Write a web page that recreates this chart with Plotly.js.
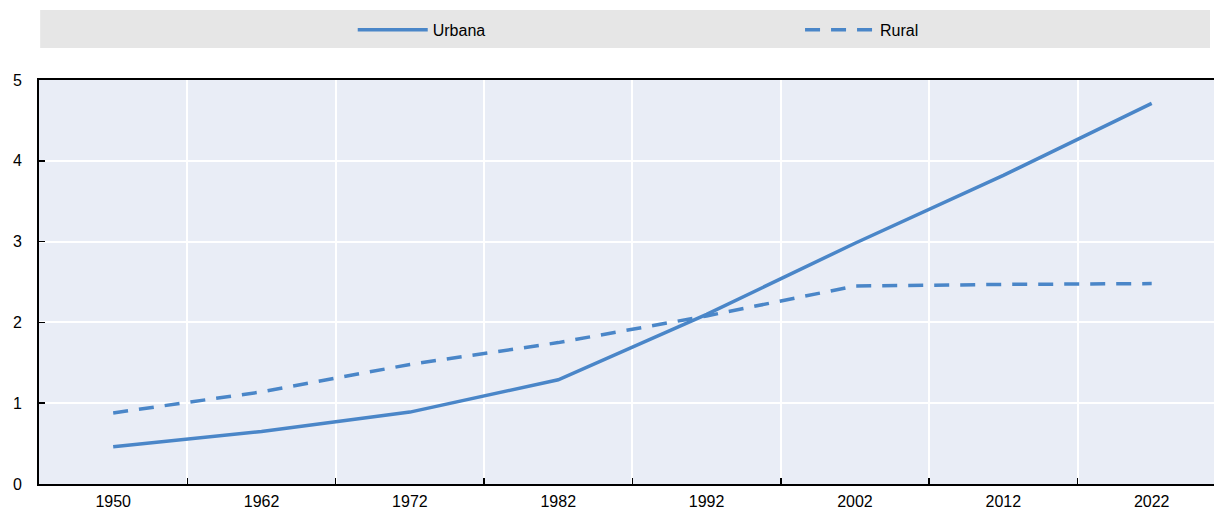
<!DOCTYPE html>
<html>
<head>
<meta charset="utf-8">
<script src="https://cdn.plot.ly/plotly-3.0.1.min.js"></script>
<style>html,body{margin:0;padding:0;background:#fff;}#chart{width:1216px;height:509px;}</style>
</head>
<body>
<div id="chart"></div>
<script>
const years = ["1950", "1962", "1972", "1982", "1992", "2002", "2012", "2022"];
const urbana = [0.46, 0.65, 0.89, 1.29, 2.10, 2.98, 3.82, 4.71];
const rural = [0.88, 1.14, 1.48, 1.75, 2.08, 2.45, 2.47, 2.48];
const seriesNames = ["Urbana", "Rural"];

const FONT = "'Liberation Sans', Arial, sans-serif";
const BLUE = "#4a86c8";

const traces = [
  {x: years, y: urbana, name: seriesNames[0], type: "scatter", mode: "lines", legend: "legend",
   line: {color: BLUE, width: 3.5}},
  {x: years, y: rural, name: seriesNames[1], type: "scatter", mode: "lines", legend: "legend2",
   line: {color: BLUE, width: 3.5, dash: "15px,11px"}}
];

const legendBase = {orientation: "h", xanchor: "left", y: 1.124, yanchor: "middle",
  bgcolor: "rgba(0,0,0,0)", font: {family: FONT, size: 16, color: "#000"}, itemwidth: 70};

const layout = {
  width: 1216, height: 509,
  margin: {l: 39, r: 2, t: 80, b: 25},
  paper_bgcolor: "#ffffff",
  plot_bgcolor: "#e9edf6",
  font: {family: FONT, size: 16, color: "#000"},
  showlegend: true,
  legend: Object.assign({}, legendBase, {x: 0.267}),
  legend2: Object.assign({}, legendBase, {x: 0.6477}),
  xaxis: {type: "category", range: [-0.5, 7.42], showline: true, linecolor: "#000", linewidth: 2,
          mirror: true, ticks: "inside", ticklen: 6, tickcolor: "#000", tickwidth: 1.5,
          tickson: "boundaries", showgrid: true, gridcolor: "#ffffff", gridwidth: 2,
          zeroline: false, ticklabelstandoff: 2, fixedrange: true},
  yaxis: {range: [0, 5], dtick: 1, showline: true, linecolor: "#000", linewidth: 2,
          ticks: "inside", ticklen: 6, tickcolor: "#000", tickwidth: 1.5,
          showgrid: true, gridcolor: "#ffffff", gridwidth: 2, zeroline: false,
          ticklabelstandoff: 12, fixedrange: true},
  shapes: [{type: "rect", xref: "paper", yref: "paper", x0: 0.001, x1: 0.9966,
            y0: 1.0792, y1: 1.1733, fillcolor: "#e6e6e6", line: {width: 0}, layer: "below"}]
};

Plotly.newPlot("chart", traces, layout, {displayModeBar: false, staticPlot: true});
</script>
</body>
</html>
